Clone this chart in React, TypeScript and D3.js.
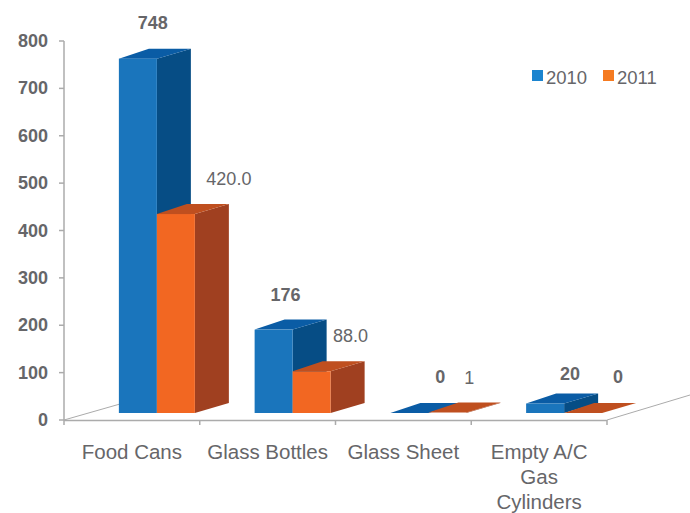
import * as d3 from "d3";

const categories = ["Food Cans", "Glass Bottles", "Glass Sheet", "Empty A/C|Gas|Cylinders"];
const seriesNames = ["2010", "2011"];
const values2010 = [748, 176, 0, 20];
const values2011 = [420, 88, 1, 0];
const labels2010 = ["748", "176", "0", "20"];
const labels2011 = ["420.0", "88.0", "1", "0"];
const yTicks = [0, 100, 200, 300, 400, 500, 600, 700, 800];

const frontColors = ["#1a75bc", "#f26722"];
const sideColors = ["#064d85", "#a04020"];
const topColors = ["#0a5ca5", "#bf4f1f"];
const legendColors = ["#1b84cf", "#f57a20"];
const axisColor = "#ababab";
const textColor = "#666669";
const fontFamily = "'Liberation Sans', Arial, sans-serif";

// Oblique projection of the bars' depth
const DEPTH_X = 34;
const DEPTH_Y = -10;
const FLOOR_LIFT = 7;
const GROUP_SHIFT = 25;

const y = d3.scaleLinear().domain([0, 800]).range([420, 41]);
const x = d3.scaleBand<string>().domain(categories).range([64, 607]);
const series = d3.scaleBand<string>().domain(seriesNames).range([-38, 38]);

// Label anchors, relative to the top of the corresponding bar group
const label2010Offset = [-4, -7, 12, 6];
const label2010Lift = [37, 36, 37, 31];
const label2011Offset = [34, 20, 3, 16];
const label2011Lift = [36, 36, 36, 37];

const polygon = (pts: [number, number][]) => d3.line()(pts) + "Z";

function Bar({ left, width, value, index }: { left: number; width: number; value: number; index: number }) {
  const base = y(0) - FLOOR_LIFT;
  const top = base - (y(0) - y(value));
  const right = left + width;
  return (
    <g>
      <path
        d={polygon([[right, base], [right + DEPTH_X, base + DEPTH_Y], [right + DEPTH_X, top + DEPTH_Y], [right, top]])}
        fill={sideColors[index]}
      />
      <path
        d={polygon([[left, top], [left + DEPTH_X - 4, top + DEPTH_Y], [right + DEPTH_X, top + DEPTH_Y], [right, top]])}
        fill={topColors[index]}
      />
      {value > 1 && <rect x={left} y={top} width={width} height={base - top} fill={frontColors[index]} />}
    </g>
  );
}

export default function App() {
  const bandStep = x.step();
  return (
    <svg
      width={690}
      height={513}
      viewBox="0 0 690 513"
      style={{ position: "absolute", left: 0, top: 0, background: "#fff" }}
      fontFamily={fontFamily}
    >
      {/* Floor edges receding from the axis ends */}
      <line x1={64} y1={y(0)} x2={120} y2={404} stroke={axisColor} strokeWidth={1} />
      <line x1={607} y1={y(0)} x2={690} y2={395} stroke={axisColor} strokeWidth={1} />

      {/* Value axis */}
      <line x1={64} y1={y(800)} x2={64} y2={y(0)} stroke={axisColor} strokeWidth={1.5} />
      {yTicks.map((t) => (
        <g key={t}>
          <line x1={59} y1={y(t)} x2={64} y2={y(t)} stroke={axisColor} strokeWidth={1.5} />
          <text x={48} y={y(t) + 6} textAnchor="end" fontSize={18} fontWeight="bold" fill={textColor}>
            {t}
          </text>
        </g>
      ))}

      {/* Category axis */}
      <line x1={64} y1={y(0) + 0.5} x2={607} y2={y(0) + 0.5} stroke={axisColor} strokeWidth={1.5} />
      {[...categories.map((c) => x(c)!), 607].map((tx) => (
        <line key={tx} x1={tx} y1={y(0)} x2={tx} y2={y(0) + 5} stroke={axisColor} strokeWidth={1.5} />
      ))}
      {categories.map((c) => (
        <text key={c} textAnchor="middle" fontSize={20.5} fill={textColor}>
          {c.split("|").map((line, i) => (
            <tspan key={line} x={x(c)! + bandStep / 2} y={459 + i * 25}>
              {line}
            </tspan>
          ))}
        </text>
      ))}

      {/* Bars, drawn back to front within each group */}
      {categories.map((c, i) => {
        const center = x(c)! + bandStep / 2 + GROUP_SHIFT;
        return (
          <g key={c}>
            <Bar left={center + series("2010")!} width={series.bandwidth()} value={values2010[i]} index={0} />
            <Bar left={center + series("2011")!} width={series.bandwidth()} value={values2011[i]} index={1} />
            <text
              x={center + label2010Offset[i]}
              y={y(values2010[i]) - label2010Lift[i]}
              textAnchor="middle"
              fontSize={18}
              fontWeight="bold"
              fill={textColor}
            >
              {labels2010[i]}
            </text>
            <text
              x={center + series("2011")! + series.bandwidth() + label2011Offset[i]}
              y={y(values2011[i]) - label2011Lift[i]}
              textAnchor="middle"
              fontSize={18}
              fontWeight={i === 3 ? "bold" : "normal"}
              fill={textColor}
            >
              {labels2011[i]}
            </text>
          </g>
        );
      })}

      {/* Legend */}
      {seriesNames.map((name, i) => (
        <g key={name} transform={`translate(${532 + i * 71},70)`}>
          <rect width={11} height={11} fill={legendColors[i]} />
          <text x={14} y={14} fontSize={18.5} fill={textColor}>
            {name}
          </text>
        </g>
      ))}
    </svg>
  );
}
